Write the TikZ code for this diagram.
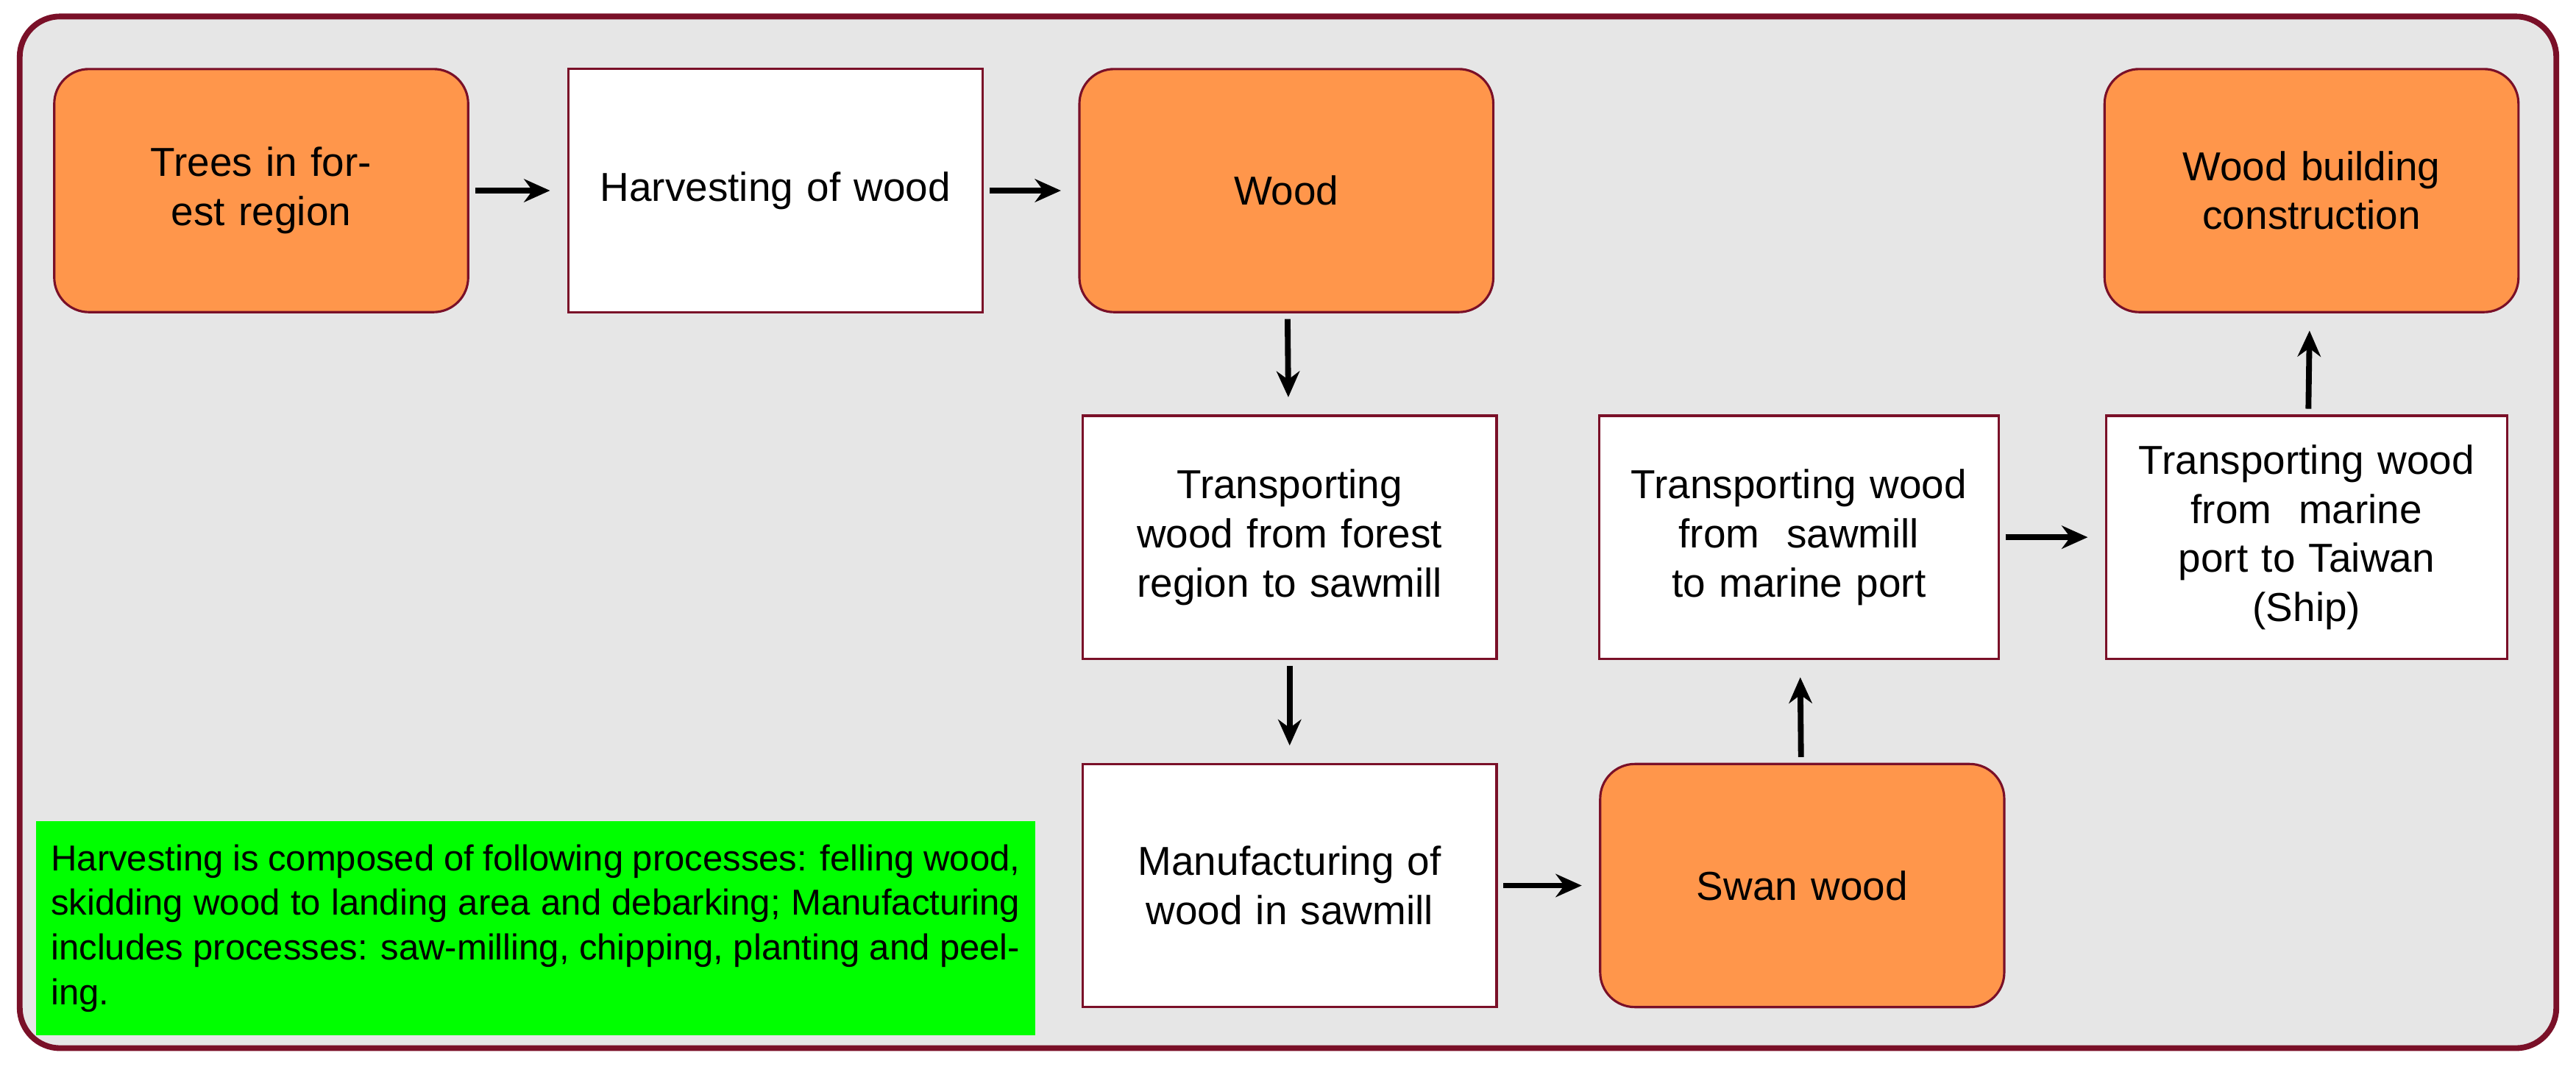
\documentclass[tikz,border=0pt]{standalone}
\usepackage{fontspec}
\setmainfont{Liberation Sans}
\usetikzlibrary{arrows.meta,positioning}
\definecolor{frame}{HTML}{7A1028}
\definecolor{boxorange}{HTML}{FF964B}
\definecolor{bggray}{HTML}{E6E6E6}
\tikzset{
  base/.style={draw=frame, line width=0.8pt, minimum width=5.04cm, minimum height=2.96cm,
    align=center, font=\fontsize{14}{17}\selectfont, text width=4.6cm},
  product/.style={base, fill=boxorange, rounded corners=12pt},
  process/.style={base, fill=white},
  flow/.style={-{Stealth[length=9pt,width=8pt]}, line width=2pt, shorten >=6pt, shorten <=2pt}
}
\begin{document}
\begin{tikzpicture}[x=0.02cm,y=-0.02cm]
  \useasboundingbox (0,0) rectangle (1568,654);

  % background frame
  \draw[frame, line width=2pt, fill=bggray, rounded corners=14pt] (12,10) rectangle (1556,638);

  % top row
  \node[product] (trees) at (159,116) {Trees in forest region};
  \node[process] (harvest) at (472,116) {Harvesting of wood};
  \node[product] (wood) at (783,116) {Wood};
  \node[product] (building) at (1407,116) {Wood building construction};

  % middle row
  \node[process] (forest2mill) at (785,327) {Transporting wood from forest region to sawmill};
  \node[process, minimum width=4.86cm] (mill2port) at (1095,327) {Transporting wood from~ sawmill to marine port};
  \node[process, minimum width=4.88cm] (port2taiwan) at (1404,327) {Transporting wood from~ marine port to Taiwan\\(Ship)};

  % bottom row
  \node[process] (manufacture) at (785,539) {Manufacturing of wood in sawmill};
  \node[product, minimum width=4.92cm] (swan) at (1097,539) {Swan wood};

  % note
  \node[fill=green, minimum width=12.16cm, minimum height=2.6cm, text width=11.8cm,
    align=justify, font=\fontsize{12.5}{15.5}\selectfont] (note) at (326,565)
    {Harvesting is composed of following processes: felling wood, skidding wood to landing area and debarking; Manufacturing includes processes: saw-milling, chipping, planting and peeling.};

  % connectors
  \draw[flow] (trees) -- (harvest);
  \draw[flow] (harvest) -- (wood);
  \draw[flow] (wood) -- (forest2mill);
  \draw[flow] (forest2mill) -- (manufacture);
  \draw[flow] (manufacture) -- (swan);
  \draw[flow] (swan) -- (mill2port);
  \draw[flow] (mill2port) -- (port2taiwan);
  \draw[flow] (port2taiwan) -- (building);

\end{tikzpicture}
\end{document}
